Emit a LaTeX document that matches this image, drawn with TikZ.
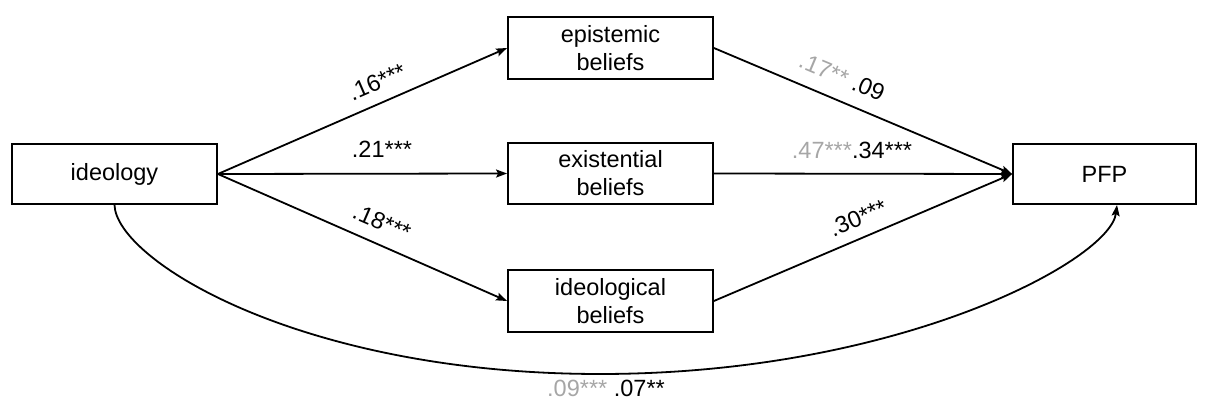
\documentclass[tikz,border=0pt]{standalone}
\usepackage{fontspec}
\setmainfont{Liberation Sans}
\usetikzlibrary{arrows.meta}
\definecolor{lightnum}{RGB}{166,166,166}
\begin{document}
\begin{tikzpicture}[x=1pt,y=-1pt,
  box/.style={draw=black,line width=1.8pt,inner sep=0pt,align=center,font=\fontsize{23.5}{28}\selectfont,text=black},
  path/.style={line width=1.8pt,-{Stealth[length=11pt,width=8pt,inset=2pt]}},
  lbl/.style={font=\fontsize{23.5}{28}\selectfont,inner sep=0pt}]
\useasboundingbox (0,0) rectangle (1208,403);
\node[box,minimum width=205pt,minimum height=60pt] (ideo) at (114.5,174) {ideology};
\node[box,minimum width=205pt,minimum height=62pt] (epi) at (610.5,48) {epistemic\\beliefs};
\node[box,minimum width=205pt,minimum height=61pt] (exi) at (610.5,173.5) {existential\\beliefs};
\node[box,minimum width=205pt,minimum height=62pt] (ideob) at (610.5,301) {ideological\\beliefs};
\node[box,minimum width=183pt,minimum height=60pt] (pfp) at (1104.5,174) {PFP};
\coordinate (bot) at (600,374);
\coordinate (pfpin) at (1117,205);
\draw[path] (ideo.east) -- (epi.west);
\draw[path] (ideo.east) -- (exi.west);
\draw[path] (ideo.east) -- (ideob.west);
\draw[path] (epi.east) -- (pfp.west);
\draw[path] (exi.east) -- (pfp.west);
\draw[path] (ideob.east) -- (pfp.west);
\draw[path] (ideo.south) .. controls (116,260) and (300,374) .. (bot)
  .. controls (900,374) and (1110,260) .. (pfpin);
\node[lbl,rotate=23.4] (l1) at (377,82) {.16***};
\node[lbl] (l2) at (382,149) {.21***};
\node[lbl,rotate=-23.4] (l3) at (382,222) {.18***};
\node[lbl,rotate=-22.8] (l4) at (842,77) {\textcolor{lightnum}{.17**} .09};
\node[lbl] (l5) at (852,150) {\textcolor{lightnum}{.47***}.34***};
\node[lbl,rotate=22.8] (l6) at (858,218) {.30***};
\node[lbl] (l7) at (606,388) {\textcolor{lightnum}{.09***} .07**};
\end{tikzpicture}
\end{document}
